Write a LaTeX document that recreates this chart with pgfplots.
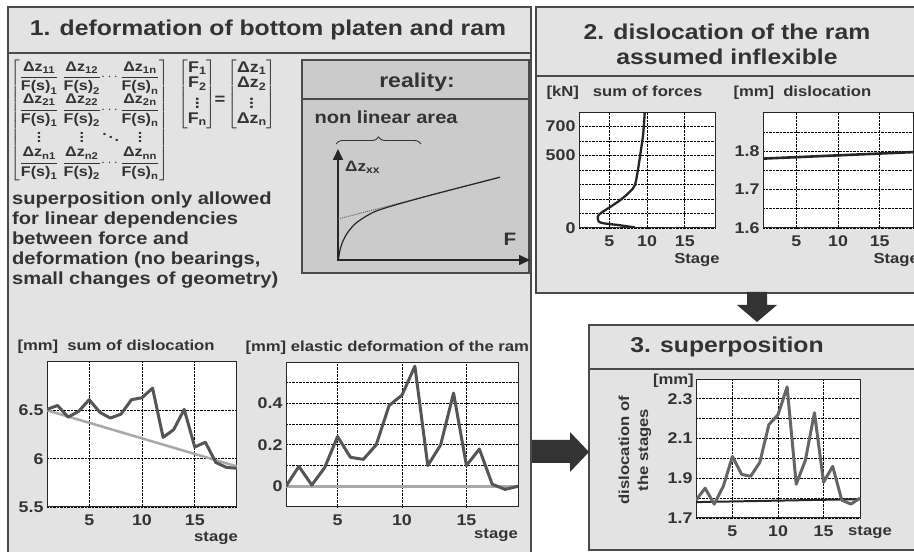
\documentclass[border=0pt]{standalone}
\usepackage{fontspec}
\setmainfont{Liberation Sans}[FakeStretch=1.15]
\usepackage{amsmath}
\usepackage{pgfplots}
\pgfplotsset{compat=1.18}
\usetikzlibrary{arrows.meta,decorations.pathreplacing}
\definecolor{txt}{HTML}{333333}
\definecolor{panelbg}{HTML}{E3E3E3}
\definecolor{realbg}{HTML}{CBCBCB}
\definecolor{frame}{HTML}{4A4A4A}
\definecolor{dline}{HTML}{555555}
\definecolor{lline}{HTML}{A8A8A8}
\newcommand\fs[1]{\fontsize{#1}{#1}\selectfont\bfseries}
\newcommand\fr[2]{\dfrac{\text{Δz}_{\text{#1}}}{\text{F(s)}_{\text{#2}}}}
\pgfplotsset{myax/.style={scale only axis, anchor=south west,
  axis background/.style={fill=white},
  axis line style={draw=black!85, line width=1pt},
  grid=both,
  major grid style={densely dotted, black, line width=0.8pt},
  minor grid style={densely dotted, black, line width=0.8pt},
  major tick length=0pt, minor tick length=0pt,
  xmin=1, xmax=19, xtick={5,10,15},
  ticklabel style={font=\fs{15.5}, text=txt},
  xticklabel style={yshift=-4pt},
  /pgf/number format/assume math mode=true}}
\begin{document}
\begin{tikzpicture}[x=1pt,y=1pt]
\useasboundingbox (0,0) rectangle (914,552);
\begin{scope}
\clip (0,0) rectangle (914,552);
\fill[white] (0,0) rectangle (914,552);
% panels
\draw[frame, line width=1.5pt, fill=panelbg] (8,545) rectangle (531,-10);
\draw[frame, line width=1.5pt] (8,499) -- (531,499);
\draw[frame, line width=1.5pt, fill=panelbg] (536,545) rectangle (930,259);
\draw[frame, line width=1.5pt] (536,476) -- (930,476);
\draw[frame, line width=1.5pt, fill=panelbg] (589,227) rectangle (930,2);
\draw[frame, line width=1.5pt] (589,183) -- (930,183);
\draw[frame, line width=1.5pt, fill=realbg] (302,492) rectangle (529,279);
\draw[frame, line width=1.5pt] (302,453) -- (529,453);
% arrows
\fill[txt] (747,260) -- (767,260) -- (767,247) -- (777,247) -- (757,230) -- (737,247) -- (747,247) -- cycle;
\fill[txt] (532,112) -- (570,112) -- (570,120) -- (589,100) -- (570,80) -- (570,89) -- (532,89) -- cycle;
% titles
\node[txt, font=\fs{21.5}] at (268,522) {1. deformation of bottom platen and ram};
\node[txt, font=\fontsize{21.5}{25}\selectfont\bfseries, align=center] at (727,508) {2. dislocation of the ram\\assumed inflexible};
\node[txt, font=\fs{21.5}] at (727,205) {3. superposition};
\node[txt, font=\fs{20}] at (417,470) {reality:};
\node[txt, font=\fs{17.5}, anchor=west] at (311,435) {non linear area};
\draw[txt, line width=0.9pt, decorate, decoration={brace, amplitude=7pt}] (336,408) -- (421,408);
% matrix
\node[txt, anchor=north west, inner sep=0pt, font=\fs{14}] at (10,492)
 {\renewcommand\arraystretch{1.03}$\left[\begin{array}{@{}c@{\hspace{4pt}}c@{}c@{}c@{}}
 \fr{11}{1} & \fr{12}{2} & \cdots & \fr{1n}{n}\\
 \fr{21}{1} & \fr{22}{2} & \cdots & \fr{2n}{n}\\
 \vdots & \vdots & \ddots & \vdots\\
 \fr{n1}{1} & \fr{n2}{2} & \cdots & \fr{nn}{n}
 \end{array}\right]$};
\node[txt, anchor=north west, inner sep=0pt, font=\fontsize{15.5}{15.5}\selectfont\bfseries] at (178,492)
 {\renewcommand\arraystretch{0.95}$\left[\begin{array}{@{}c@{}}\text{F}_{\text{1}}\\ \text{F}_{\text{2}}\\ \vdots\\ \text{F}_{\text{n}}\end{array}\right]$};
\node[txt, font=\fs{16}] at (220,452) {=};
\node[txt, anchor=north west, inner sep=0pt, font=\fontsize{15.5}{15.5}\selectfont\bfseries] at (227,492)
 {\renewcommand\arraystretch{0.95}$\left[\begin{array}{@{}c@{}}\text{Δz}_{\text{1}}\\ \text{Δz}_{\text{2}}\\ \vdots\\ \text{Δz}_{\text{n}}\end{array}\right]$};
\node[txt, anchor=north west, inner sep=0pt, align=left, font=\fontsize{17.5}{20}\selectfont\bfseries] at (12,360)
 {superposition only allowed\\for linear dependencies\\between force and\\deformation (no bearings,\\small changes of geometry)};
% reality sketch
\draw[black!85, line width=1.6pt, -{Triangle[length=11pt,width=10pt]}] (338,291) -- (338,403);
\draw[black!85, line width=1.6pt, -{Triangle[length=11pt,width=10pt]}] (337,292) -- (530,292);
\node[txt, font=\fs{15}, anchor=west, inner sep=0pt] at (345,385) {Δz\textsubscript{xx}};
\node[txt, font=\fs{18}] at (510,313) {F};
\begin{axis}[at={(338pt,292pt)}, anchor=south west, scale only axis, width=190pt, height=110pt,
  xmin=338, xmax=528, ymin=292, ymax=402, hide axis, clip=false]
\addplot[black!60, densely dotted, line width=1pt] coordinates {(338,333) (500,374.8)};
\addplot[black!85, line width=1.2pt, smooth] coordinates {(338.5,293) (340,302) (343,311) (348,320) (355,328) (364,334.5) (375,340.5) (390,345.5) (410,351.2) (440,359.3) (500,374.8)};
\end{axis}
% plot A
\node[txt, font=\fs{14.5}, anchor=west] at (14,205) {[mm]\hspace{9pt}sum of dislocation};
\begin{axis}[myax, at={(47pt,45pt)}, width=190pt, height=145pt, ymin=5.5, ymax=7, ytick={5.5,6,6.5}]
\addplot[lline, line width=2.5pt] coordinates {(1,6.5) (19,5.92)};
\addplot[dline, line width=3pt, line join=round] coordinates {(1,6.51)(2,6.55)(3,6.43)(4,6.49)(5,6.61)(6,6.48)(7,6.42)(8,6.46)(9,6.61)(10,6.63)(11,6.73)(12,6.22)(13,6.30)(14,6.51)(15,6.12)(16,6.17)(17,5.96)(18,5.91)(19,5.90)};
\end{axis}
\node[txt, font=\fs{14.5}] at (216,14) {stage};
% plot B
\node[txt, font=\fs{14.5}, anchor=west] at (242,204) {[mm] elastic deformation of the ram};
\begin{axis}[myax, at={(286pt,45pt)}, width=232pt, height=145pt, ymin=-0.1, ymax=0.6, ytick={0,0.2,0.4}, minor ytick={0.1,0.3,0.5}]
\addplot[lline, line width=2.5pt] coordinates {(1,0) (19,0)};
\addplot[dline, line width=3pt, line join=round] coordinates {(1,0)(2,0.096)(3,0.006)(4,0.09)(5,0.24)(6,0.14)(7,0.13)(8,0.20)(9,0.39)(10,0.44)(11,0.58)(12,0.10)(13,0.20)(14,0.45)(15,0.10)(16,0.18)(17,0.01)(18,-0.015)(19,0)};
\end{axis}
\node[txt, font=\fs{14.5}] at (496,17) {stage};
% plot C
\node[txt, font=\fs{14.5}, anchor=west] at (543,459) {[kN]\hspace{14pt}sum of forces};
\begin{axis}[myax, at={(579pt,324pt)}, width=136pt, height=116pt, ymin=0, ymax=800, ytick={0,500,700}, minor ytick={100,200,300,400,600}]
\addplot[black!85, line width=2.3pt, smooth] coordinates {(8.4,4)(6.1,21)(4.3,32)(3.6,45)(3.5,80)(3.9,103)(5.1,144)(6.5,194)(7.75,251)(8.4,297)(8.8,400)(9.2,537)(9.5,651)(9.7,800)};
\end{axis}
\node[txt, font=\fs{14.5}] at (697,292) {Stage};
% plot D
\node[txt, font=\fs{14.5}, anchor=west] at (730,459) {[mm]\hspace{9pt}dislocation};
\begin{axis}[myax, at={(763pt,324pt)}, width=150pt, height=115pt, ymin=1.6, ymax=1.9, ytick={1.6,1.7,1.8}, minor ytick={1.65,1.75,1.85}]
\addplot[black!85, line width=2.6pt] coordinates {(1,1.781) (19,1.798)};
\end{axis}
\node[txt, font=\fs{14.5}, anchor=west] at (870,292) {Stage};
% plot E
\node[txt, font=\fs{14.5}, anchor=east, inner sep=1pt] at (695,171) {[mm]};
\node[txt, font=\fontsize{14.5}{19}\selectfont\bfseries, rotate=90, align=center] at (635,102) {dislocation of\\the stages};
\begin{axis}[myax, at={(696pt,34pt)}, width=164pt, height=139pt, ymin=1.7, ymax=2.4, ytick={1.7,1.9,2.1,2.3}, minor ytick={1.8,2.0,2.2}]
\addplot[black!85, line width=2pt] coordinates {(1,1.78) (19,1.795)};
\addplot[black!60, line width=3pt, line join=round] coordinates {(1,1.79)(2,1.85)(3,1.77)(4,1.86)(5,2.01)(6,1.92)(7,1.91)(8,1.98)(9,2.17)(10,2.22)(11,2.36)(12,1.87)(13,1.99)(14,2.23)(15,1.88)(16,1.96)(17,1.79)(18,1.77)(19,1.80)};
\end{axis}
\node[txt, font=\fs{14.5}] at (870,20) {stage};
\end{scope}
\end{tikzpicture}
\end{document}
